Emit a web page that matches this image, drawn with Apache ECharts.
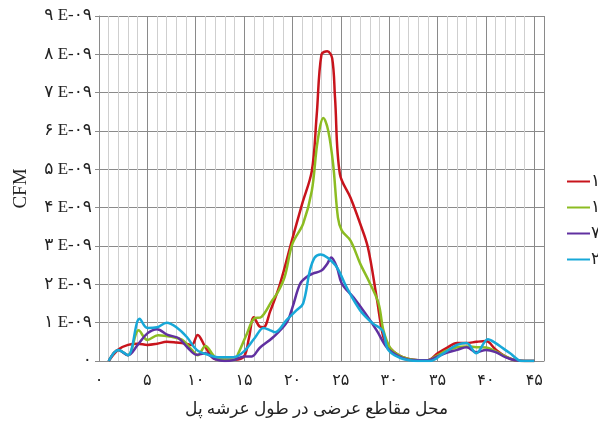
<!DOCTYPE html>
<html>
<head>
<meta charset="utf-8">
<script src="https://cdn.jsdelivr.net/npm/echarts@6/dist/echarts.min.js"></script>
<style>
  html, body { margin: 0; padding: 0; background: #fff; }
  #chart { width: 598px; height: 423px; }
</style>
</head>
<body>
<div id="chart"></div>
<script>
// values in units of E-09
const seriesNames = ['۱۲۰', '۱۰۰', '۷۰', '۲۰'];
const seriesColors = ['#c8141c', '#8cbc22', '#6030a0', '#18a8d8'];

const redX = [1, 2, 3, 4, 5, 6, 7, 8, 9, 9.6, 10.2, 11, 12, 13, 14, 15, 15.5, 16, 16.6, 17, 17.7, 18.7, 20, 21, 22, 22.5, 23, 23.6, 24.1, 24.4, 24.9, 26, 27, 27.8, 28.7, 29.4, 30, 31, 32, 33, 34, 35, 36, 37, 38, 39, 40, 41, 42, 43, 44, 45];
const redY = [0, 0.3, 0.42, 0.45, 0.42, 0.45, 0.5, 0.48, 0.45, 0.42, 0.68, 0.36, 0.05, 0.03, 0.03, 0.12, 0.6, 1.14, 0.9, 0.88, 1.3, 2.0, 3.2, 4.1, 4.96, 6.4, 8.0, 8.08, 7.9, 6.86, 4.88, 4.26, 3.58, 2.96, 1.66, 0.62, 0.36, 0.15, 0.05, 0.02, 0.02, 0.2, 0.35, 0.47, 0.47, 0.5, 0.52, 0.3, 0.12, 0.02, 0, 0];

const greenX = [1, 2, 3, 4.1, 5, 6.1, 7.5, 8.6, 9.6, 10.2, 11, 12, 13, 14, 14.4, 15.3, 16, 16.8, 17.9, 18.5, 19.2, 20, 21.1, 22, 22.6, 23.2, 23.7, 24.2, 24.7, 25.1, 26, 27, 28, 28.9, 29.4, 30.1, 31, 32, 33, 34, 35, 36, 37, 38, 39, 40, 41, 42, 43, 44, 45];
const greenY = [0, 0.29, 0.15, 0.8, 0.55, 0.67, 0.63, 0.55, 0.29, 0.15, 0.39, 0.1, 0.03, 0.03, 0.2, 0.72, 1.1, 1.15, 1.58, 1.8, 2.2, 3.06, 3.58, 4.44, 5.74, 6.34, 6.0, 5.14, 3.74, 3.4, 3.14, 2.54, 2.03, 1.5, 0.8, 0.34, 0.15, 0.05, 0.02, 0.02, 0.15, 0.28, 0.36, 0.38, 0.36, 0.35, 0.25, 0.12, 0.02, 0, 0];

const purpleX = [1, 2, 3, 4, 5, 6, 7.1, 8.2, 9.2, 10.1, 11, 12, 13, 14, 15, 15.8, 16.6, 18, 19.4, 20, 20.8, 21.5, 22.1, 23, 23.6, 24, 24.6, 25.1, 26.3, 27.5, 28.7, 29.8, 31, 32, 33, 34, 35, 36, 37, 38, 39, 40, 41, 42, 43, 44, 45];
const purpleY = [0, 0.29, 0.15, 0.42, 0.72, 0.83, 0.68, 0.6, 0.34, 0.16, 0.2, 0.05, 0, 0.03, 0.12, 0.12, 0.34, 0.62, 1.0, 1.4, 2.02, 2.2, 2.28, 2.36, 2.54, 2.7, 2.44, 2.02, 1.66, 1.25, 0.8, 0.34, 0.12, 0.03, 0.02, 0.02, 0.12, 0.22, 0.29, 0.36, 0.23, 0.29, 0.23, 0.1, 0.02, 0, 0];

const cyanX = [1, 2, 3, 4.2, 5, 6, 7, 8, 9.1, 10.1, 11.3, 12.3, 13.9, 14.9, 16.1, 17, 17.7, 18.2, 19.4, 20.4, 21.1, 21.8, 22.3, 22.9, 23.6, 24.6, 25.6, 27, 28.3, 29.3, 29.9, 31.1, 32, 33, 34.2, 35.6, 37, 38, 39, 40.2, 40.8, 42.5, 43.7, 45];
const cyanY = [0, 0.29, 0.15, 1.1, 0.86, 0.88, 1.0, 0.88, 0.62, 0.29, 0.16, 0.1, 0.1, 0.23, 0.6, 0.86, 0.8, 0.75, 1.07, 1.32, 1.5, 2.36, 2.7, 2.78, 2.7, 2.44, 1.92, 1.32, 0.98, 0.8, 0.29, 0.08, 0.02, 0, 0, 0.2, 0.42, 0.47, 0.2, 0.57, 0.5, 0.2, 0, 0];

const xTickLabels = ['۰', '۵', '۱۰', '۱۵', '۲۰', '۲۵', '۳۰', '۳۵', '۴۰', '۴۵'];
const yTickLabels = ['۰', '۱ E-۰۹', '۲ E-۰۹', '۳ E-۰۹', '۴ E-۰۹', '۵ E-۰۹', '۶ E-۰۹', '۷ E-۰۹', '۸ E-۰۹', '۹ E-۰۹'];

const allX = [redX, greenX, purpleX, cyanX];
const allY = [redY, greenY, purpleY, cyanY];

const font = '"Liberation Serif", "DejaVu Sans", serif';

const chart = echarts.init(document.getElementById('chart'));

const option = {
  animation: false,
  grid: { left: 99, right: 54, top: 16, bottom: 62, containLabel: false, outerBoundsMode: 'none' },
  legend: {
    orient: 'vertical',
    left: 567,
    top: 173,
    padding: 0,
    icon: 'rect',
    itemWidth: 23,
    itemHeight: 2,
    itemGap: 9,
    textStyle: { fontFamily: font, fontSize: 17, color: '#222', overflow: 'none', padding: [0, 0, 0, -4] },
    data: seriesNames
  },
  xAxis: {
    type: 'value',
    min: 0,
    max: 46,
    interval: 5,
    name: 'محل مقاطع عرضی در طول عرشه پل',
    nameLocation: 'middle',
    nameGap: 40,
    nameTextStyle: { fontFamily: font, fontSize: 17, color: '#222', padding: [0, 10, 0, 0] },
    axisLine: { lineStyle: { color: '#8a8a8a', width: 1 } },
    axisTick: { show: false },
    axisLabel: {
      margin: 12,
      fontFamily: font,
      fontSize: 16,
      color: '#222',
      showMaxLabel: false,
      formatter: v => xTickLabels[Math.round(v / 5)] ?? ''
    },
    splitLine: { show: true, lineStyle: { color: '#8a8a8a', width: 1 } },
    minorTick: { show: false, splitNumber: 5 },
    minorSplitLine: { show: true, lineStyle: { color: '#cfcfcf', width: 1 } }
  },
  yAxis: {
    type: 'value',
    min: 0,
    max: 9,
    interval: 1,
    name: 'CFM',
    nameLocation: 'middle',
    nameGap: 68,
    nameRotate: 90,
    nameTextStyle: { fontFamily: font, fontSize: 19, color: '#222' },
    axisLine: { show: true, lineStyle: { color: '#8a8a8a', width: 1 } },
    axisTick: { show: true, length: 4, lineStyle: { color: '#8a8a8a' } },
    axisLabel: {
      margin: 7,
      fontFamily: font,
      fontSize: 17,
      color: '#222',
      formatter: v => yTickLabels[Math.round(v)]
    },
    splitLine: { show: true, lineStyle: { color: '#8a8a8a', width: 1 } }
  },
  series: seriesNames.map((name, i) => ({
    name: name,
    type: 'line',
    smooth: 0.35,
    showSymbol: false,
    symbol: 'none',
    color: seriesColors[i],
    lineStyle: { width: 2.5, color: seriesColors[i] },
    data: allX[i].map((x, j) => [x, allY[i][j]])
  }))
};

chart.setOption(option);
</script>
</body>
</html>
